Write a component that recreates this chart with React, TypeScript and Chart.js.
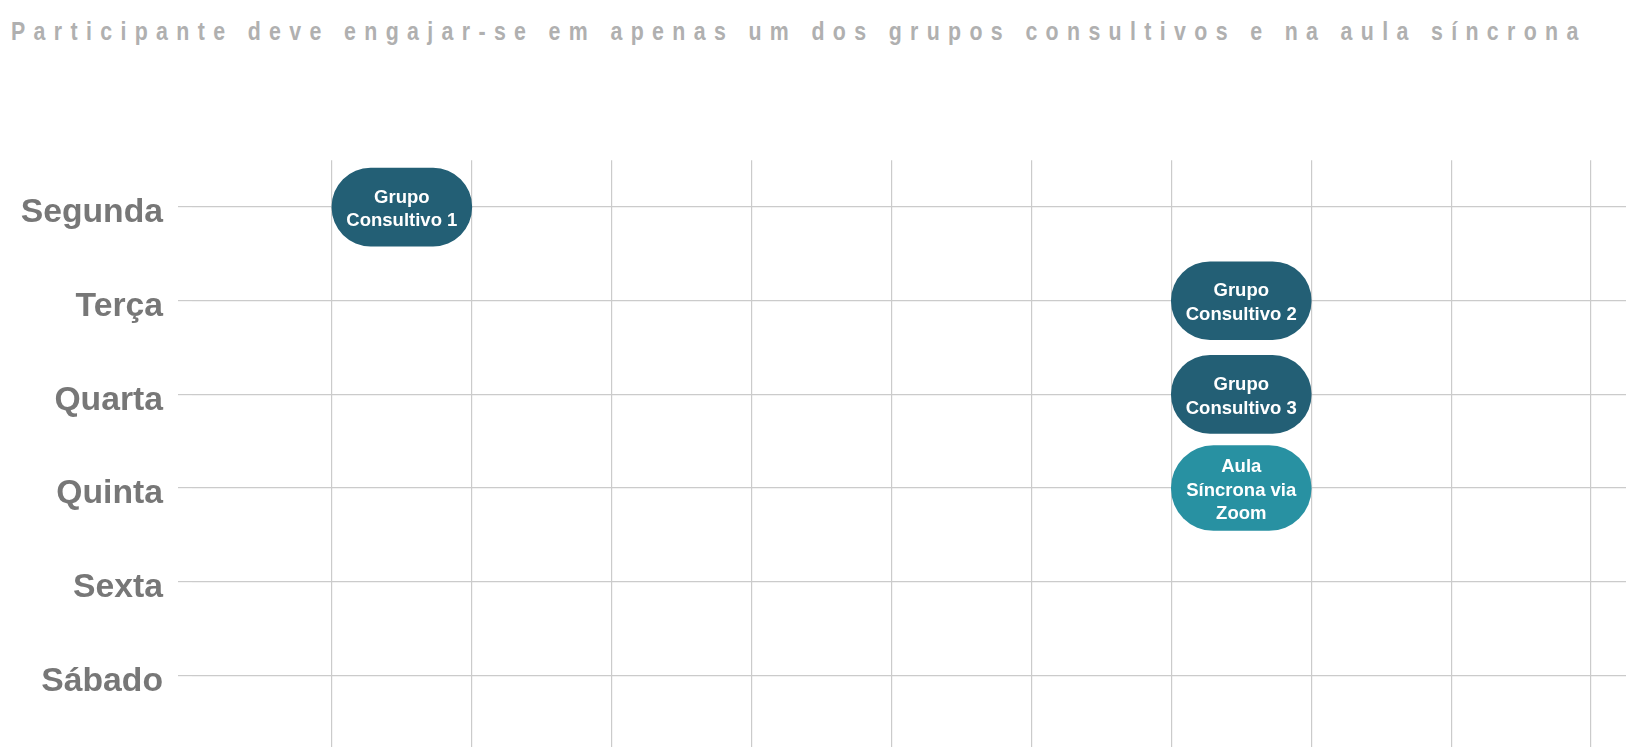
import React, { useEffect, useRef } from "react";
import { Chart, registerables } from "chart.js";

Chart.register(...registerables);

// ---- data ----
const days = ["Segunda", "Terça", "Quarta", "Quinta", "Sexta", "Sábado"];
const grupoSpans: ([number, number] | null)[] = [[8, 9], [14, 15], [14, 15], null, null, null];
const grupoLabels = ["Grupo\nConsultivo 1", "Grupo\nConsultivo 2", "Grupo\nConsultivo 3", "", "", ""];
const aulaSpans: ([number, number] | null)[] = [null, null, null, [14, 15], null, null];
const aulaLabels = ["", "", "", "Aula\nSíncrona via\nZoom", "", ""];
const hourMin = 7;
const hourMax = 17.25;
const subtitle = "Participante deve engajar-se em apenas um dos grupos consultivos e na aula síncrona";

// ---- style ----
const FONT = "'Liberation Sans', Arial, Helvetica, sans-serif";
const GRID = "#cbcbcb";
const DARK = "#235f75";
const LIGHT = "#2891a2";
const AREA_TOP = 160;
const ROW_PX = 93.67;

const pillText = {
  id: "pillText",
  afterDatasetsDraw(chart: any) {
    const { ctx } = chart;
    const labelSets = [grupoLabels, aulaLabels];
    ctx.save();
    ctx.fillStyle = "#ffffff";
    ctx.font = `bold 18.5px ${FONT}`;
    ctx.textAlign = "center";
    ctx.textBaseline = "alphabetic";
    chart.data.datasets.forEach((_ds: any, di: number) => {
      const meta = chart.getDatasetMeta(di);
      meta.data.forEach((el: any, i: number) => {
        const txt = labelSets[di][i];
        if (!txt) return;
        const lines = txt.split("\n");
        const c = el.getCenterPoint();
        const lh = 23.8;
        lines.forEach((ln: string, k: number) => {
          const y = c.y + (k - (lines.length - 1) / 2) * lh + 7.5;
          ctx.fillText(ln, c.x, y);
        });
      });
    });
    ctx.restore();
  },
};

export default function App() {
  const boxRef = useRef<HTMLDivElement>(null);
  const canvasRef = useRef<HTMLCanvasElement>(null);

  useEffect(() => {
    const canvas = canvasRef.current!;
    const box = boxRef.current!;
    const chart = new Chart(canvas, {
      type: "bar",
      data: {
        labels: days,
        datasets: [
          {
            label: "Grupos Consultivos",
            data: grupoSpans as any,
            backgroundColor: DARK,
            barThickness: 78,
            borderRadius: 60,
            borderSkipped: false,
            grouped: false,
          } as any,
          {
            label: "Aula Síncrona",
            data: aulaSpans as any,
            backgroundColor: LIGHT,
            barThickness: 85,
            borderRadius: 60,
            borderSkipped: false,
            grouped: false,
          } as any,
        ],
      },
      options: {
        indexAxis: "y",
        animation: false,
        responsive: true,
        maintainAspectRatio: false,
        layout: { padding: 0 },
        plugins: {
          legend: { display: false },
          tooltip: { enabled: false },
          title: { display: false },
        },
        scales: {
          x: {
            type: "linear",
            position: "bottom",
            min: hourMin,
            max: hourMax,
            ticks: { stepSize: 1, display: false, includeBounds: false },
            grid: {
              color: (c: any) =>
                c.tick && (c.tick.value === hourMin || !Number.isInteger(c.tick.value)) ? "rgba(0,0,0,0)" : GRID,
              lineWidth: 1.2,
              tickLength: 40,
              drawTicks: true,
            },
            border: { display: false },
          },
          y: {
            type: "category",
            offset: true,
            grid: { offset: false, color: GRID, lineWidth: 1.2, tickLength: 14 },
            border: { display: false },
            ticks: {
              color: "#777777",
              padding: 15,
              labelOffset: 6,
              font: { family: FONT, size: 33.7, weight: "bold" },
            },
            afterFit: (s: any) => {
              s.width = 184;
            },
          },
        },
      } as any,
      plugins: [pillText],
    });

    const ca = chart.chartArea;
    const diff = ROW_PX * days.length - (ca.bottom - ca.top);
    if (Math.abs(diff) > 0.3) {
      box.style.height = box.offsetHeight + diff + "px";
      chart.resize();
    }
    box.style.top = AREA_TOP - chart.chartArea.top + "px";

    return () => chart.destroy();
  }, []);

  return (
    <div style={{ position: "fixed", left: 0, top: 0, width: "100vw", height: "100vh", overflow: "hidden", background: "#fff" }}>
      <div
        style={{
          position: "absolute",
          left: 11,
          top: 18,
          fontFamily: FONT,
          fontWeight: "bold",
          fontSize: 26,
          lineHeight: "26px",
          letterSpacing: "10.2px",
          color: "#b0b0b0",
          whiteSpace: "nowrap",
          transform: "scaleX(0.82)",
          transformOrigin: "0 0",
        }}
      >
        {subtitle}
      </div>
      <div ref={boxRef} style={{ position: "absolute", left: 8, top: 160, width: 1618, height: 640 }}>
        <canvas ref={canvasRef} />
      </div>
    </div>
  );
}
